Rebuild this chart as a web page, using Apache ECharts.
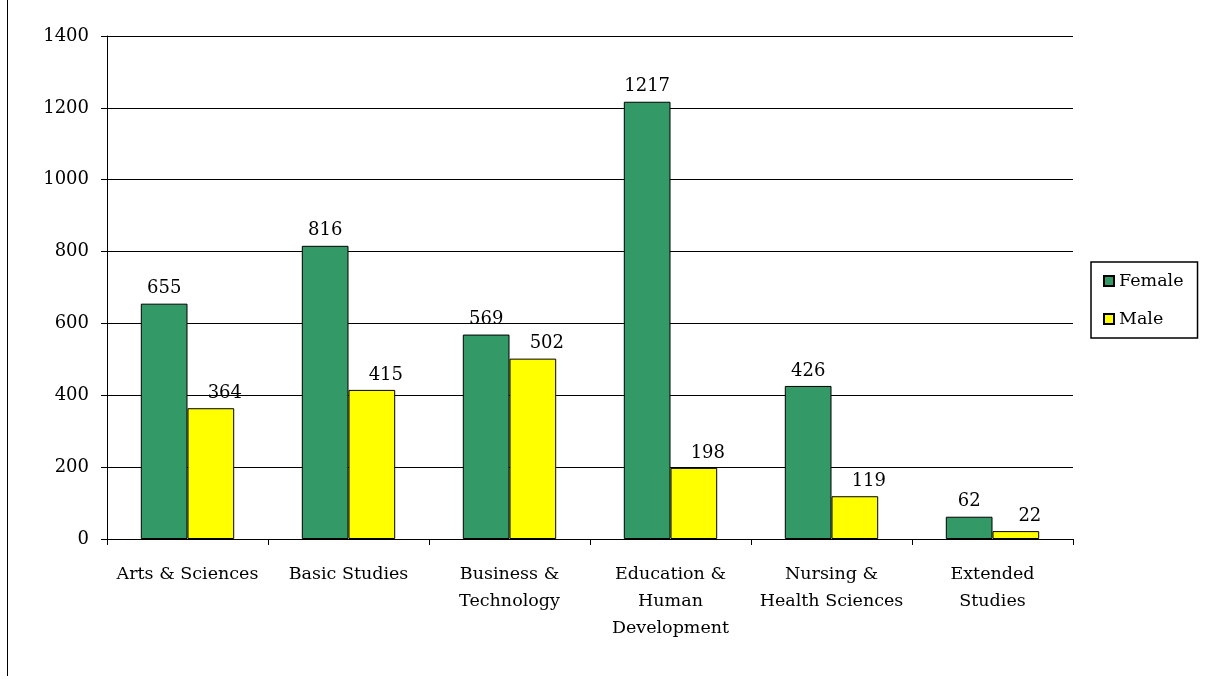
<!DOCTYPE html>
<html><head><meta charset="utf-8">
<script src="https://cdn.jsdelivr.net/npm/echarts@6/dist/echarts.min.js"></script>
<style>html,body{margin:0;padding:0;background:#fff}#c{width:1205px;height:679px}
#bl{position:absolute;left:7px;top:0;width:1px;height:676px;background:#000}</style>
</head><body><div id="c"></div><div id="bl"></div>
<script>
const categories = ['Arts & Sciences','Basic Studies','Business &\nTechnology','Education &\nHuman\nDevelopment','Nursing &\nHealth Sciences','Extended\nStudies'];
const female = [655, 816, 569, 1217, 426, 62];
const male = [364, 415, 502, 198, 119, 22];
const yTicks = [0, 200, 400, 600, 800, 1000, 1200, 1400];

const font = '"DejaVu Serif", "Liberation Serif", serif';
const chart = echarts.init(document.getElementById('c'));
chart.setOption({
  animation: false,
  textStyle: {fontFamily: font},
  grid: {left: 107, right: 132, top: 36, bottom: 140, containLabel: false},
  legend: {
    orient: 'vertical', left: 1091, top: 262,
    data: ['Female','Male'],
    icon: 'rect', itemWidth: 10, itemHeight: 10, itemGap: 20,
    padding: [10, 14, 10, 12],
    borderColor: '#000', borderWidth: 1.5,
    textStyle: {fontFamily: font, fontSize: 17.5, color: '#000'}
  },
  xAxis: {
    type: 'category', data: categories,
    axisLine: {lineStyle: {color: '#000', width: 1}},
    axisTick: {show: true, length: 6, lineStyle: {color: '#000'}},
    axisLabel: {fontFamily: font, fontSize: 17.5, color: '#000', lineHeight: 27, margin: 22, interval: 0}
  },
  yAxis: {
    type: 'value', min: yTicks[0], max: yTicks[yTicks.length-1], interval: 200,
    axisLine: {show: true, lineStyle: {color: '#000'}},
    axisTick: {show: true, length: 6, lineStyle: {color: '#000'}},
    splitLine: {lineStyle: {color: '#000', width: 1}},
    axisLabel: {fontFamily: font, fontSize: 18, color: '#000', margin: 18, formatter: v => String(v)}
  },
  series: [
    {name: 'Female', type: 'bar', data: female, barGap: '0%', barCategoryGap: '42%',
     itemStyle: {color: '#339966', borderColor: '#000', borderWidth: 1},
     label: {show: true, position: 'top', distance: 6, fontFamily: font, fontSize: 18, color: '#000'}},
    {name: 'Male', type: 'bar', data: male,
     itemStyle: {color: '#FFFF00', borderColor: '#000', borderWidth: 1},
     label: {show: true, position: 'top', distance: 6, offset: [14, 0], fontFamily: font, fontSize: 18, color: '#000'}}
  ]
});
</script></body></html>
